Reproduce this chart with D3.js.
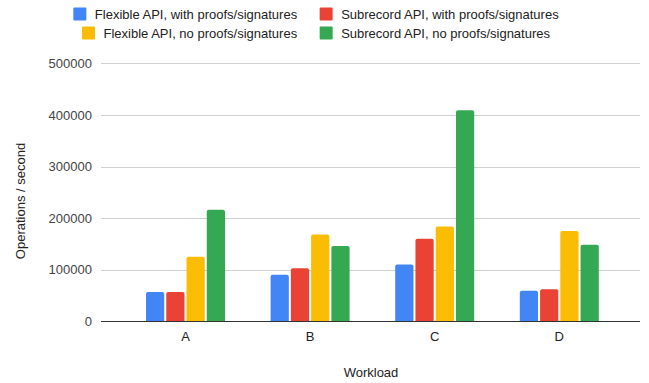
<!DOCTYPE html>
<html><head><meta charset="utf-8">
<script src="https://cdn.jsdelivr.net/npm/d3@7"></script>
<style>body{margin:0;background:#fff}svg{display:block;font-family:"Liberation Sans",Arial,sans-serif}</style>
</head><body>
<svg id="c" width="649" height="383"></svg>
<script>
const categories = ["A","B","C","D"];
const seriesNames = ["Flexible API, with proofs/signatures","Subrecord API, with proofs/signatures","Flexible API, no proofs/signatures","Subrecord API, no proofs/signatures"];
const seriesColors = ["#4285F4","#EA4335","#FBBC04","#34A853"];
const flexWith = [57000, 90000, 110000, 59000];
const subWith = [57000, 103000, 160000, 62000];
const flexNo = [125000, 168000, 183500, 175000];
const subNo = [216000, 146000, 409000, 148500];
const yTicks = [0,100000,200000,300000,400000,500000];
const seriesValues = [flexWith, subWith, flexNo, subNo];

const svg = d3.select("#c");
const plot = {left:101, right:640, top:63.3, bottom:321.3};
const y = d3.scaleLinear().domain([0,500000]).range([plot.bottom, plot.top]);
const x = d3.scaleBand().domain(categories).range([123.2, 621.6]).paddingInner(0.366).paddingOuter(0.183);
const xs = d3.scaleBand().domain(d3.range(4)).range([0, x.bandwidth()]).paddingInner(0.1);

// gridlines
svg.append("g").selectAll("line").data(yTicks.filter(d=>d>0)).join("line")
  .attr("x1",plot.left).attr("x2",plot.right)
  .attr("y1",d=>Math.round(y(d))+0.5).attr("y2",d=>Math.round(y(d))+0.5)
  .attr("stroke","#d0d0d0").attr("stroke-width",1);

// y axis labels
const yAxis = d3.axisLeft(y).tickValues(yTicks).tickSize(0).tickPadding(9).tickFormat(d3.format("d"));
const ga = svg.append("g").attr("transform",`translate(${plot.left},0)`).call(yAxis);
ga.select(".domain").remove();
ga.selectAll("text").attr("font-size",13).attr("fill","#444").attr("font-family","Liberation Sans, Arial, sans-serif");

// bars
const groups = svg.append("g").selectAll("g").data(categories).join("g")
  .attr("transform",d=>`translate(${x(d)},0)`);
groups.selectAll("path").data((c,ci)=>seriesValues.map((s,si)=>({si, v:s[ci]}))).join("path")
  .attr("fill",d=>seriesColors[d.si])
  .attr("d",d=>{
    const x0 = xs(d.si), w = xs.bandwidth(), y0 = y(d.v), y1 = y(0), r = 2;
    return `M${x0},${y1}V${y0+r}Q${x0},${y0} ${x0+r},${y0}H${x0+w-r}Q${x0+w},${y0} ${x0+w},${y0+r}V${y1}Z`;
  });

// baseline
svg.append("line").attr("x1",plot.left).attr("x2",plot.right)
  .attr("y1",Math.round(y(0))+0.5).attr("y2",Math.round(y(0))+0.5)
  .attr("stroke","#333").attr("stroke-width",1);

// x axis labels
const xAxis = d3.axisBottom(x).tickSize(0).tickPadding(10);
const gx = svg.append("g").attr("transform",`translate(0,${plot.bottom})`).call(xAxis);
gx.select(".domain").remove();
gx.selectAll("text").attr("font-size",13).attr("fill","#222").attr("font-family","Liberation Sans, Arial, sans-serif");

// axis titles
svg.append("text").attr("x",371).attr("y",377).attr("text-anchor","middle")
  .attr("font-size",13).attr("fill","#222").text("Workload");
svg.append("text").attr("transform","translate(25,201) rotate(-90)").attr("text-anchor","middle")
  .attr("font-size",13).attr("fill","#222").text("Operations / second");

// legend
const rows = [[0,1],[2,3]];
const rowY = [14, 33];
rows.forEach((row,ri)=>{
  const g = svg.append("g");
  let cx = 0;
  row.forEach((si,k)=>{
    g.append("rect").attr("x",cx).attr("y",rowY[ri]-6.5).attr("width",13).attr("height",13)
      .attr("rx",1).attr("fill",seriesColors[si]);
    const t = g.append("text").attr("x",cx+21.5).attr("y",rowY[ri]+4.5)
      .attr("font-size",13).attr("fill","#222").text(seriesNames[si]);
    cx += 21.5 + t.node().getComputedTextLength();
    if (k < row.length-1) cx += 22.5;
  });
  g.attr("transform",`translate(${316 - cx/2},0)`);
});
</script>
</body></html>
